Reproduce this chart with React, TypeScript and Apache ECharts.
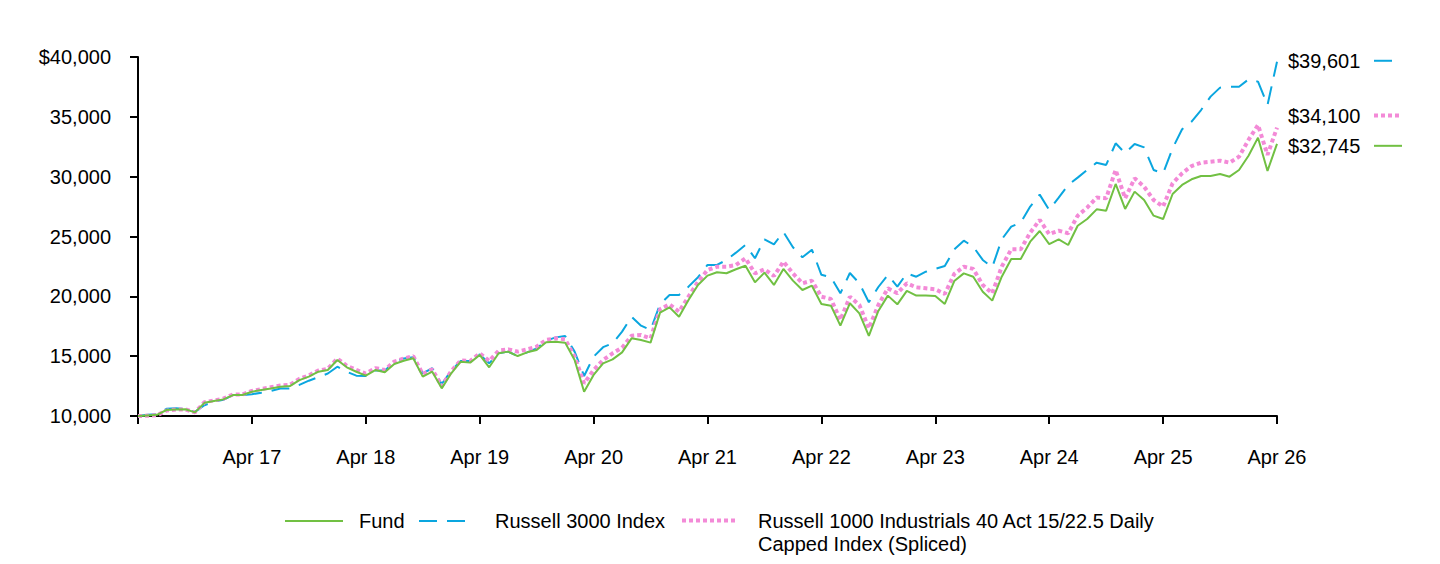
import React, { useEffect, useRef } from 'react';
import * as echarts from 'echarts';

// ---- Data ----
const monthNames = ['Apr', 'May', 'Jun', 'Jul', 'Aug', 'Sep', 'Oct', 'Nov', 'Dec', 'Jan', 'Feb', 'Mar'];
const yearTickLabels = ['Apr 16', 'Apr 17', 'Apr 18', 'Apr 19', 'Apr 20', 'Apr 21', 'Apr 22', 'Apr 23', 'Apr 24', 'Apr 25', 'Apr 26'];

const fund = [
  10000, 10050, 10100, 10500, 10550, 10560, 10300, 11100, 11250, 11390, 11750, 11750,
  12030, 12170, 12300, 12450, 12500, 13000, 13290, 13700, 13840, 14680, 14070, 13700,
  13370, 13840, 13650, 14350, 14620, 14820, 13290, 13700, 12310, 13570, 14540, 14460,
  15100, 14070, 15240, 15380, 15010, 15320, 15520, 16170, 16210, 16130, 14680, 12030,
  13430, 14400, 14730, 15320, 16490, 16350, 16130, 18640, 19080, 18300, 19700, 20950,
  21730, 22010, 21930, 22260, 22560, 21170, 21980, 20950, 22290, 21310, 20530, 20890,
  19360, 19220, 17550, 19420, 18580, 16690, 18780, 20060, 19330, 20450, 20060, 20060,
  20030, 19360, 21280, 21920, 21640, 20390, 19640, 21640, 23120, 23120, 24570, 25460,
  24370, 24760, 24290, 25900, 26460, 27270, 27160, 29390, 27300, 28750, 28050, 26740,
  26460, 28550, 29310, 29780, 30060, 30060, 30220, 30000, 30560, 31750, 33260, 30480,
  32745,
];

const russell3000 = [
  10000, 10100, 10150, 10600, 10650, 10600, 10350, 10900, 11200, 11350, 11750, 11750,
  11820, 11950, 12100, 12300, 12300, 12600, 12950, 13250, 13550, 14120, 13700, 13370,
  13350, 13800, 13800, 14500, 14800, 14900, 13570, 13990, 12670, 13800, 14600, 14600,
  15150, 14400, 15240, 15380, 15010, 15320, 15650, 16290, 16570, 16690, 15380, 13340,
  14960, 15750, 16070, 17050, 18300, 17550, 17190, 19350, 20110, 20110, 20810, 21600,
  22620, 22620, 23040, 23650, 24290, 23180, 24760, 24350, 25380, 24100, 23260, 23900,
  21800, 21600, 20250, 21950, 21090, 19500, 20780, 21780, 20810, 21920, 21640, 22060,
  22300, 22530, 23930, 24650, 24150, 23040, 22430, 24760, 25820, 26160, 27500, 28500,
  27220, 28250, 29310, 29920, 30560, 31170, 30980, 32790, 31960, 32730, 32450, 30560,
  30280, 32370, 33960, 34600, 35570, 36690, 37440, 37520, 37520, 38130, 37940, 35990,
  39601,
];

const russell1000Industrials = [
  10000, 10020, 10060, 10450, 10550, 10550, 10300, 11150, 11300, 11450, 11800, 11800,
  12100, 12250, 12400, 12550, 12600, 13100, 13400, 13800, 13950, 14800, 14200, 13850,
  13550, 14000, 13850, 14550, 14800, 15000, 13500, 13900, 12500, 13750, 14650, 14600,
  15240, 14600, 15460, 15570, 15380, 15570, 15790, 16350, 16490, 16410, 14960, 12730,
  13840, 14680, 15240, 15710, 16710, 16770, 16490, 18920, 19330, 18720, 19970, 21220,
  22200, 22480, 22480, 22620, 23180, 21920, 22260, 21700, 22900, 21920, 21090, 21310,
  19970, 19780, 18020, 19970, 19280, 17330, 19280, 20670, 20250, 21090, 20750, 20670,
  20590, 20200, 21870, 22480, 22290, 20950, 20250, 22480, 23930, 23930, 25320, 26380,
  25200, 25490, 25270, 26740, 27410, 28250, 28190, 30560, 28190, 29860, 29160, 28050,
  27500, 29450, 30280, 30890, 31170, 31250, 31340, 31170, 31670, 33070, 34320, 31820,
  34100,
];

const endValueLabels = ['$39,601', '$34,100', '$32,745'];

const FUND_NAME = 'Fund';
const R3000_NAME = 'Russell 3000 Index';
const R1000_NAME = 'Russell 1000 Industrials 40 Act 15/22.5 Daily Capped Index (Spliced)';
const R1000_LEGEND_LINES = ['Russell 1000 Industrials 40 Act 15/22.5 Daily', 'Capped Index (Spliced)'];

const GREEN = '#71c043';
const BLUE = '#0aa6df';
const PINK = '#f38ad7';
const FONT = '"Liberation Sans", Arial, Helvetica, sans-serif';
const FS = 20;

export default function App() {
  const ref = useRef<HTMLDivElement>(null);

  useEffect(() => {
    if (!ref.current) return;
    const chart = echarts.init(ref.current, null, { renderer: 'svg' });

    const categories: string[] = [];
    for (let i = 0; i < fund.length; i++) {
      const m = i % 12;
      const baseYear = 16 + Math.floor(i / 12);
      categories.push(monthNames[m] + ' ' + (m >= 9 ? baseYear + 1 : baseYear));
    }

    const legendBase = {
      orient: 'horizontal',
      padding: 0,
      itemHeight: 24,
      itemGap: 16,
      selectedMode: false,
      itemStyle: { opacity: 0 },
    };

    chart.setOption({
      animation: false,
      textStyle: { fontFamily: FONT },
      grid: { left: 138, right: 163, top: 57, bottom: 148, containLabel: false },
      legend: [
        {
          ...legendBase,
          data: [FUND_NAME],
          left: 284,
          top: 511,
          itemWidth: 58,
          lineStyle: { width: 2 },
          textStyle: { fontSize: FS, color: '#000', fontFamily: FONT, padding: [0, 0, 0, 11] },
        },
        {
          ...legendBase,
          data: [R3000_NAME],
          left: 418,
          top: 511,
          itemWidth: 47,
          lineStyle: { width: 2 },
          textStyle: { fontSize: FS, color: '#000', fontFamily: FONT, padding: [0, 0, 0, 24] },
        },
        {
          ...legendBase,
          data: [R1000_NAME],
          left: 680,
          top: 486,
          itemWidth: 55,
          lineStyle: { width: 4 },
          formatter: () => ' \n' + R1000_LEGEND_LINES.join('\n'),
          textStyle: { fontSize: FS, color: '#000', fontFamily: FONT, lineHeight: 23, padding: [0, 0, 0, 16] },
        },
      ],
      xAxis: {
        type: 'category',
        data: categories,
        boundaryGap: false,
        axisLine: { show: true, lineStyle: { color: '#000', width: 2 } },
        axisTick: {
          show: true,
          length: 8,
          interval: (idx: number) => idx % 12 === 0,
          lineStyle: { color: '#000', width: 2 },
        },
        axisLabel: {
          interval: (idx: number) => idx % 12 === 0 && idx > 0,
          formatter: (_v: string, idx: number) => yearTickLabels[Math.floor(idx / 12)],
          fontSize: FS,
          color: '#000',
          margin: 31,
          fontFamily: FONT,
        },
        splitLine: { show: false },
      },
      yAxis: {
        type: 'value',
        min: 10000,
        max: 40000,
        interval: 5000,
        axisLine: { show: true, lineStyle: { color: '#000', width: 2 } },
        axisTick: { show: true, length: 8, lineStyle: { color: '#000', width: 2 } },
        axisLabel: {
          fontSize: FS,
          color: '#000',
          margin: 27,
          fontFamily: FONT,
          formatter: (v: number) => (v === 40000 ? '$' : '') + v.toLocaleString('en-US'),
        },
        splitLine: { show: false },
      },
      series: [
        {
          name: R3000_NAME,
          type: 'line',
          data: russell3000,
          symbol: 'none',
          z: 2,
          itemStyle: { color: BLUE },
          lineStyle: { color: BLUE, width: 2, type: [18, 10] },
        },
        {
          name: R1000_NAME,
          type: 'line',
          data: russell1000Industrials,
          symbol: 'none',
          z: 3,
          itemStyle: { color: PINK },
          lineStyle: { color: PINK, width: 4, type: [4, 3] },
        },
        {
          name: FUND_NAME,
          type: 'line',
          data: fund,
          symbol: 'none',
          z: 4,
          itemStyle: { color: GREEN },
          lineStyle: { color: GREEN, width: 2 },
        },
      ],
    });

    // End-value labels with line samples, positioned via the chart's own scale
    const last = fund.length - 1;
    const ends = [
      { val: russell3000[last], label: endValueLabels[0], color: BLUE, width: 2, dash: [18, 10], dy: -1 },
      { val: russell1000Industrials[last], label: endValueLabels[1], color: PINK, width: 4, dash: [4, 3], dy: -12 },
      { val: fund[last], label: endValueLabels[2], color: GREEN, width: 2, dash: null, dy: 2 },
    ];
    const graphics: any[] = [];
    ends.forEach((e) => {
      const p = chart.convertToPixel({ xAxisIndex: 0, yAxisIndex: 0 }, [last, e.val]) as number[];
      const y = p[1] + e.dy;
      const x0 = p[0] + 11;
      graphics.push({
        type: 'text',
        x: x0,
        y,
        style: { text: e.label, fontSize: FS, fontFamily: FONT, fill: '#000', verticalAlign: 'middle', align: 'left' },
      });
      graphics.push({
        type: 'line',
        shape: { x1: x0 + 86, y1: y, x2: x0 + 114, y2: y },
        style: { stroke: e.color, lineWidth: e.width, lineDash: e.dash || undefined },
      });
    });
    chart.setOption({ graphic: graphics });

    return () => chart.dispose();
  }, []);

  return (
    <div
      ref={ref}
      style={{ position: 'fixed', left: 0, top: 0, width: 1440, height: 564, background: '#fff' }}
    />
  );
}
